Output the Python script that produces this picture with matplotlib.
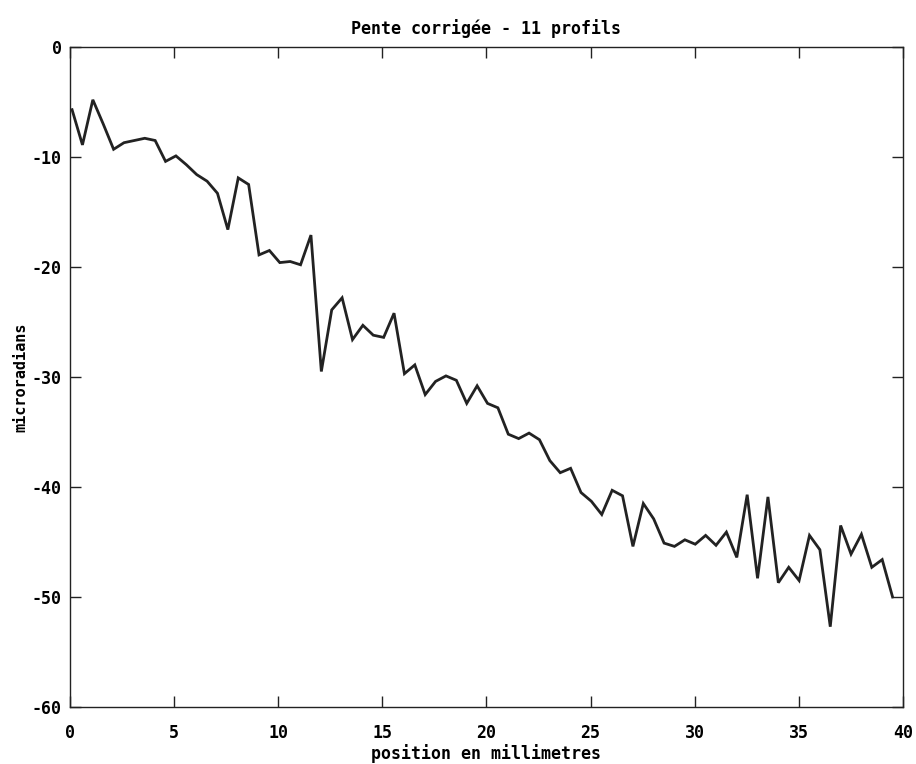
import numpy as np
import matplotlib
matplotlib.use("Agg")
import matplotlib.pyplot as plt

# Corrected slope (mean of 11 profiles), one sample every 0.5 mm
position_mm = np.linspace(0.1, 39.5, 80)
pente = [
    -5.7, -8.9, -4.8, -7.0, -9.3, -8.7, -8.5, -8.3, -8.5, -10.4,
    -9.9, -10.7, -11.6, -12.2, -13.3, -16.6, -11.9, -12.5, -18.9, -18.5,
    -19.6, -19.5, -19.8, -17.1, -29.5, -23.9, -22.8, -26.6, -25.3, -26.2,
    -26.4, -24.2, -29.7, -28.9, -31.6, -30.4, -29.9, -30.3, -32.4, -30.8,
    -32.4, -32.8, -35.2, -35.6, -35.1, -35.7, -37.6, -38.7, -38.3, -40.5,
    -41.3, -42.5, -40.3, -40.8, -45.4, -41.5, -42.9, -45.1, -45.4, -44.8,
    -45.2, -44.4, -45.3, -44.1, -46.4, -40.7, -48.3, -40.9, -48.7, -47.3,
    -48.5, -44.4, -45.7, -52.7, -43.5, -46.1, -44.3, -47.3, -46.6, -50.0,
]

x_ticks = [0, 5, 10, 15, 20, 25, 30, 35, 40]
y_ticks = [0, -10, -20, -30, -40, -50, -60]

title = "Pente corrigée - 11 profils"
x_label = "position en millimetres"
y_label = "microradians"

font = {"family": "DejaVu Sans Mono", "weight": "bold"}

fig = plt.figure(figsize=(9.16, 7.64), dpi=100)
ax = fig.add_axes([0.0764, 0.0746, 0.9094, 0.8639])

ax.plot(position_mm, pente, color="#222222", lw=2.0, solid_joinstyle="miter")

ax.set_xlim(0, 40)
ax.set_ylim(-60, 0)
ax.set_xticks(x_ticks)
ax.set_yticks(y_ticks)
ax.set_xticklabels([str(v) for v in x_ticks], fontdict=font, fontsize=12)
ax.set_yticklabels([str(v) for v in y_ticks], fontdict=font, fontsize=12)
ax.tick_params(direction="in", length=8, width=1, top=True, right=True,
               color="#222222", pad=6)
ax.tick_params(axis="x", pad=12)
for s in ax.spines.values():
    s.set_color("#222222")
    s.set_linewidth(1.0)

ax.set_title(title, fontdict=font, fontsize=12, pad=9)
ax.set_xlabel(x_label, fontdict=font, fontsize=12, labelpad=2)
ax.set_ylabel(y_label, fontdict=font, fontsize=11, labelpad=2)

fig.savefig("out.png", dpi=100, facecolor="white")
